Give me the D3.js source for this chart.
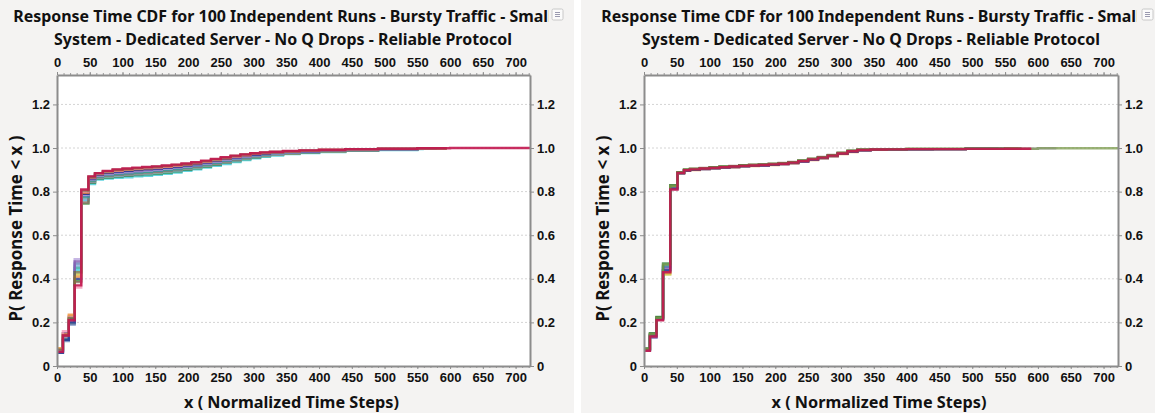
<!DOCTYPE html>
<html>
<head>
<meta charset="utf-8">
<script src="https://cdn.jsdelivr.net/npm/d3@7"></script>
<style>
  html, body { margin: 0; padding: 0; background: #ffffff; }
  svg { display: block; }
</style>
</head>
<body>
<svg id="chart" width="1155" height="413"></svg>
<script>
// ---- data -------------------------------------------------------------
const titleLine1 = "Response Time CDF for 100 Independent Runs - Bursty Traffic - Small";
const titleLine2 = "System - Dedicated Server - No Q Drops - Reliable Protocol";
const xAxisTitle = "x ( Normalized Time Steps)";
const yAxisTitle = "P( Response Time < x )";

const xTicks = [0, 50, 100, 150, 200, 250, 300, 350, 400, 450, 500, 550, 600, 650, 700];
const yTicks = [0, 0.2, 0.4, 0.6, 0.8, 1.0, 1.2];
const yTickLabels = ["0", "0.2", "0.4", "0.6", "0.8", "1.0", "1.2"];

// step start times (normalized time steps)
const leftTimes  = [0, 9, 18, 27, 37, 48, 58, 70, 85, 100, 115, 130, 145, 160, 175, 190, 205, 220,
                    235, 250, 265, 280, 295, 310, 325, 345, 370, 400, 440, 490, 550, 600, 722];
const rightTimes = [0, 9, 19, 29, 40, 51, 61, 70, 85, 100, 115, 130, 145, 160, 175, 190, 205, 220,
                    235, 250, 265, 280, 295, 310, 325, 345, 370, 400, 440, 490, 550, 600, 722];

// left chart: cumulative probability per run at each step time
const leftRunColors = ["#2fc6d6", "#2e7d32", "#c9c23a", "#7fa7d9", "#8d6e63", "#26a69a",
                       "#5a78b4", "#b39ddb", "#7b4fa8", "#1f2f8a", "#f08a30", "#f48fb1",
                       "#6b6b3a", "#c2174f"];
const leftRunEnds = [560, 575, 590, 580, 570, 585, 595, 590, 590, 580, 595, 590, 595, 722];
const leftRuns = [
  [.07,.13,.22,.44,.76, .835,.855,.86,.863,.866,.87,.873,.877,.882,.888,.895,.902,.91,.918,.927,.936,.945,.953,.96,.966,.972,.977,.982,.987,.991,.995,1,1],
  [.075,.125,.215,.39,.745, .84,.86,.865,.869,.872,.876,.879,.883,.888,.893,.9,.907,.915,.923,.932,.94,.949,.956,.963,.969,.974,.979,.984,.988,.992,.996,1,1],
  [.08,.15,.23,.42,.77, .845,.864,.87,.875,.878,.882,.885,.889,.893,.899,.905,.912,.92,.928,.936,.945,.953,.96,.966,.971,.976,.981,.985,.989,.993,.996,1,1],
  [.065,.125,.21,.46,.765, .844,.863,.869,.873,.876,.88,.883,.887,.892,.897,.904,.91,.918,.926,.935,.943,.952,.959,.965,.97,.976,.98,.985,.989,.993,.996,1,1],
  [.065,.13,.195,.385,.75, .847,.866,.872,.877,.88,.884,.887,.891,.895,.901,.907,.914,.921,.929,.938,.946,.954,.961,.967,.972,.977,.981,.986,.99,.993,.996,1,1],
  [.07,.12,.2,.45,.775, .851,.869,.876,.881,.884,.888,.891,.895,.899,.904,.91,.917,.924,.932,.941,.949,.957,.963,.969,.974,.978,.982,.987,.991,.994,.997,1,1],
  [.06,.115,.19,.47,.78, .854,.872,.879,.884,.888,.892,.895,.898,.903,.908,.914,.92,.928,.936,.944,.952,.959,.966,.971,.975,.98,.984,.988,.991,.994,.997,1,1],
  [.07,.135,.205,.49,.785, .856,.873,.881,.886,.89,.894,.897,.9,.905,.91,.915,.922,.929,.937,.946,.953,.961,.967,.972,.976,.98,.984,.988,.992,.995,.997,1,1],
  [.07,.15,.215,.48,.79, .86,.876,.885,.89,.894,.898,.901,.904,.909,.913,.919,.925,.932,.94,.949,.956,.963,.969,.974,.978,.982,.985,.989,.993,.995,.998,1,1],
  [.06,.12,.2,.40,.79, .861,.878,.886,.892,.896,.9,.903,.906,.91,.915,.921,.927,.934,.942,.95,.958,.965,.97,.975,.979,.983,.986,.99,.993,.996,.998,1,1],
  [.08,.145,.235,.41,.795, .865,.881,.89,.896,.9,.904,.907,.91,.914,.919,.924,.93,.937,.945,.953,.961,.967,.973,.977,.98,.984,.987,.991,.994,.996,.998,1,1],
  [.075,.16,.225,.36,.8, .867,.882,.892,.898,.902,.906,.909,.912,.916,.92,.926,.932,.939,.947,.955,.962,.968,.974,.978,.981,.985,.988,.991,.994,.997,.999,1,1],
  [.075,.14,.22,.43,.805, .868,.884,.893,.9,.904,.908,.911,.914,.918,.922,.927,.933,.94,.948,.956,.964,.97,.975,.979,.982,.985,.988,.991,.995,.997,.999,1,1],
  [.065,.14,.21,.37,.81, .87,.885,.895,.902,.906,.91,.913,.916,.92,.924,.929,.935,.942,.95,.958,.965,.971,.976,.98,.983,.986,.989,.992,.995,.997,.999,1,1]
];

// right chart: cumulative probability per run at each step time
const rightRunColors = ["#7b4fa8", "#f08a30", "#26a69a", "#5a78b4", "#c9c23a", "#8d6e63",
                        "#b39ddb", "#1f2f8a", "#2e7d32", "#7a9a4a", "#c2174f"];
const rightRunEnds = [530, 545, 560, 555, 570, 540, 628, 550, 575, 722, 590];
const rightRuns = [
  [.072,.13,.218,.45,.82, .884,.896,.9,.904,.907,.91,.913,.916,.918,.92,.923,.926,.931,.938,.946,.954,.963,.973,.983,.99,.992,.993,.994,.995,.996,.997,.999,1],
  [.074,.138,.212,.425,.818, .883,.895,.899,.903,.906,.909,.912,.915,.917,.919,.922,.925,.93,.937,.945,.953,.962,.972,.982,.989,.992,.993,.994,.995,.996,.997,.999,1],
  [.076,.142,.222,.46,.822, .887,.899,.903,.907,.91,.913,.916,.919,.921,.923,.926,.929,.934,.941,.949,.957,.966,.976,.986,.991,.993,.994,.995,.995,.996,.997,.999,1],
  [.071,.133,.216,.455,.812, .886,.898,.902,.906,.909,.912,.915,.918,.92,.922,.925,.928,.933,.94,.948,.956,.965,.975,.985,.991,.993,.994,.995,.995,.996,.997,.999,1],
  [.078,.145,.22,.42,.825, .888,.9,.904,.908,.911,.914,.917,.92,.922,.924,.927,.93,.935,.942,.95,.958,.967,.977,.987,.992,.994,.995,.996,.996,.997,.998,.999,1],
  [.079,.148,.224,.435,.828, .889,.901,.905,.909,.912,.915,.918,.921,.923,.925,.928,.931,.936,.943,.951,.959,.968,.978,.988,.992,.994,.995,.996,.996,.997,.998,.999,1],
  [.073,.14,.213,.44,.816, .885,.897,.901,.905,.908,.911,.914,.917,.919,.921,.924,.927,.932,.939,.947,.955,.964,.974,.984,.99,.993,.994,.995,.995,.996,.997,.999,1],
  [.075,.14,.215,.44,.815, .884,.896,.9,.904,.907,.91,.913,.916,.918,.92,.923,.926,.931,.938,.946,.954,.963,.973,.983,.99,.992,.993,.994,.995,.996,.997,.999,1],
  [.08,.15,.225,.47,.83, .888,.9,.904,.908,.911,.914,.917,.92,.922,.924,.927,.93,.935,.942,.95,.958,.967,.977,.987,.992,.994,.995,.996,.996,.997,.998,.999,1],
  [.077,.146,.221,.465,.826, .887,.899,.903,.907,.91,.913,.916,.919,.921,.923,.926,.929,.934,.941,.949,.957,.966,.976,.986,.991,.993,.994,.995,.995,.996,.997,.999,1],
  [.07,.135,.21,.43,.81, .886,.898,.902,.906,.909,.912,.915,.918,.92,.922,.925,.928,.933,.94,.948,.956,.965,.975,.985,.991,.993,.994,.995,.995,.996,.997,.999,1]
];

// ---- layout -----------------------------------------------------------
const svg = d3.select("#chart");
const FONT = "'Noto Sans', 'Open Sans', sans-serif";
const TICKFONT = "'Liberation Sans', Arial, sans-serif";

const panels = [
  { bgX: 0,   bgW: 574, x0: 57,  x1: 530,  cx: 283, times: leftTimes,  runs: leftRuns,  colors: leftRunColors,  ends: leftRunEnds,  clipRight: 549,  btnX: 552 },
  { bgX: 581, bgW: 574, x0: 644, x1: 1118, cx: 871, times: rightTimes, runs: rightRuns, colors: rightRunColors, ends: rightRunEnds, clipRight: 1137, btnX: 1142 }
];

const yTop = 75, yBottom = 366;
const y = d3.scaleLinear().domain([0, 1.335]).range([yBottom, yTop]);

function fitFont(sel, target, base) {
  const len = sel.node().getComputedTextLength();
  sel.attr("font-size", base * target / len);
}

panels.forEach((p, i) => {
  const g = svg.append("g");
  const x = d3.scaleLinear().domain([0, 722]).range([p.x0, p.x1]);

  // panel background
  g.append("rect").attr("x", p.bgX).attr("y", 0).attr("width", p.bgW).attr("height", 413)
    .attr("fill", "#f4f3f2");

  // title, clipped where the panel's corner button sits
  const clipId = "titleClip" + i;
  svg.append("clipPath").attr("id", clipId).append("rect")
    .attr("x", p.bgX).attr("y", 0).attr("width", p.clipRight - p.bgX).attr("height", 50);
  const tg = g.append("g").attr("clip-path", `url(#${clipId})`);
  const t2 = tg.append("text").attr("x", p.cx).attr("y", 45).attr("text-anchor", "middle")
    .attr("font-family", FONT).attr("font-weight", "bold").attr("font-size", 15)
    .attr("fill", "#111").text(titleLine2);
  fitFont(t2, 458, 15);
  const fs = +t2.attr("font-size");
  tg.append("text").attr("x", p.cx).attr("y", 22).attr("text-anchor", "middle")
    .attr("font-family", FONT).attr("font-weight", "bold").attr("font-size", fs)
    .attr("fill", "#111").text(titleLine1);

  // small corner button
  const bx = p.btnX, by = 9;
  g.append("rect").attr("x", bx).attr("y", by).attr("width", 11).attr("height", 11)
    .attr("rx", 1.5).attr("fill", "#fbfbfb").attr("stroke", "#c8c8c8");
  [0, 1, 2].forEach(k => {
    g.append("line").attr("x1", bx + 3).attr("x2", bx + 8)
      .attr("y1", by + 3.5 + k * 2).attr("y2", by + 3.5 + k * 2)
      .attr("stroke", "#9a9ab0").attr("stroke-width", 1);
  });

  // plot area
  g.append("rect").attr("x", p.x0).attr("y", yTop).attr("width", p.x1 - p.x0)
    .attr("height", yBottom - yTop).attr("fill", "#ffffff");

  // horizontal grid
  g.append("g").selectAll("line").data(yTicks.filter(v => v > 0)).join("line")
    .attr("x1", p.x0).attr("x2", p.x1).attr("y1", d => y(d)).attr("y2", d => y(d))
    .attr("stroke", "#d4d4d4").attr("stroke-width", 1).attr("stroke-dasharray", "2,2");

  // CDF step lines
  const clipPlot = "plotClip" + i;
  svg.append("clipPath").attr("id", clipPlot).append("rect")
    .attr("x", p.x0).attr("y", yTop).attr("width", p.x1 - p.x0).attr("height", yBottom - yTop);
  const line = d3.line().x(d => x(d[0])).y(d => y(d[1])).curve(d3.curveStepAfter);
  const lg = g.append("g").attr("clip-path", `url(#${clipPlot})`);
  p.runs.forEach((vals, r) => {
    const end = p.ends[r];
    const pts = [];
    p.times.forEach((t, k) => { if (t < end && vals[k] !== undefined) pts.push([t, vals[k]]); });
    pts.push([end, pts[pts.length - 1][1]]);
    lg.append("path").attr("d", line(pts)).attr("fill", "none")
      .attr("stroke", p.colors[r]).attr("stroke-width", 2.4)
      .attr("stroke-opacity", r === p.runs.length - 1 ? 0.9 : 0.75)
      .attr("stroke-linejoin", "miter");
  });

  // axes
  const minor = d3.range(0, 721, 10);
  const styleAxis = a => {
    a.select(".domain").attr("stroke", "#8c8c8c").attr("stroke-width", 2);
    a.selectAll(".tick line").attr("stroke", "#8c8c8c");
    a.selectAll("text").attr("font-family", TICKFONT).attr("font-weight", "bold")
      .attr("font-size", 13).attr("fill", "#111");
  };

  // top
  g.append("g").attr("transform", `translate(0,${yTop})`)
    .call(d3.axisTop(x).tickValues(minor).tickSize(2).tickFormat("").tickSizeOuter(0))
    .call(a => { a.select(".domain").remove(); a.selectAll(".tick line").attr("stroke", "#999"); });
  const top = g.append("g").attr("transform", `translate(0,${yTop})`)
    .call(d3.axisTop(x).tickValues(xTicks).tickSize(3).tickPadding(5).tickFormat(d3.format("d")).tickSizeOuter(0));
  styleAxis(top);

  // bottom
  g.append("g").attr("transform", `translate(0,${yBottom})`)
    .call(d3.axisBottom(x).tickValues(minor).tickSize(2).tickFormat("").tickSizeOuter(0))
    .call(a => { a.select(".domain").remove(); a.selectAll(".tick line").attr("stroke", "#999"); });
  const bottom = g.append("g").attr("transform", `translate(0,${yBottom})`)
    .call(d3.axisBottom(x).tickValues(xTicks).tickSize(3).tickPadding(4).tickFormat(d3.format("d")).tickSizeOuter(0));
  styleAxis(bottom);

  // left & right
  const left = g.append("g").attr("transform", `translate(${p.x0},0)`)
    .call(d3.axisLeft(y).tickValues(yTicks).tickSize(4).tickPadding(3)
      .tickFormat((d, k) => yTickLabels[k]).tickSizeOuter(0));
  styleAxis(left);
  const right = g.append("g").attr("transform", `translate(${p.x1},0)`)
    .call(d3.axisRight(y).tickValues(yTicks).tickSize(4).tickPadding(3)
      .tickFormat((d, k) => yTickLabels[k]).tickSizeOuter(0));
  styleAxis(right);

  // axis titles
  const xt = g.append("text").attr("x", (p.x0 + p.x1) / 2 - 2).attr("y", 408)
    .attr("text-anchor", "middle").attr("font-family", FONT).attr("font-weight", "bold")
    .attr("font-size", 16).attr("fill", "#111").text(xAxisTitle);
  fitFont(xt, 215, 16);
  const yt = g.append("text").attr("transform", `translate(${p.x0 - 35},${(yTop + yBottom) / 2 + 8}) rotate(-90)`)
    .attr("text-anchor", "middle").attr("font-family", FONT).attr("font-weight", "bold")
    .attr("font-size", 16).attr("fill", "#111").text(yAxisTitle);
  fitFont(yt, 186, 16);
});
</script>
</body>
</html>
